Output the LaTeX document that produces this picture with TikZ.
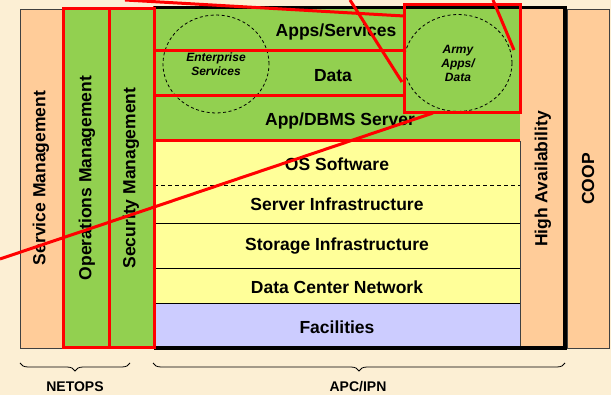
\documentclass[tikz,border=0pt]{standalone}
\usepackage{fontspec}
\setmainfont{Liberation Sans}
\usetikzlibrary{shapes.geometric,decorations.pathreplacing}
\definecolor{cream}{RGB}{252,239,212}
\definecolor{peach}{RGB}{255,204,153}
\definecolor{leaf}{RGB}{146,208,80}
\definecolor{paleyellow}{RGB}{255,255,153}
\definecolor{lavender}{RGB}{204,204,255}
\tikzset{
  layer/.style={font=\fontsize{17.5}{20}\selectfont\bfseries},
  column/.style={layer, rotate=90},
  redbox/.style={draw=red, line width=3pt},
  callout/.style={red, line width=3pt},
  bubble/.style={ellipse, draw, dash pattern=on 3pt off 2.5pt, line width=0.8pt,
    inner sep=0pt, align=center, font=\fontsize{12}{14}\selectfont\bfseries\itshape},
  groupbrace/.style={decorate, decoration={brace, mirror, amplitude=8pt}, line width=0.8pt},
  grouplabel/.style={font=\fontsize{14}{16}\selectfont\bfseries}
}
\begin{document}
\begin{tikzpicture}[x=1pt,y=-1pt]
  \useasboundingbox (0,0) rectangle (611,395);
  \fill[cream] (0,0) rectangle (611,395);
  % side columns
  \draw[fill=peach, draw=darkgray] (20,9) rectangle (63,348);
  \draw[fill=peach, draw=darkgray] (567,9) rectangle (609,348);
  \fill[leaf] (63,9) rectangle (154,348);
  % layers of the stack
  \fill[leaf] (154,7) rectangle (520,141);
  \fill[paleyellow] (154,141) rectangle (520,303);
  \fill[lavender] (154,303) rectangle (520,348);
  \fill[peach] (520,7) rectangle (565,348);
  \draw[dash pattern=on 4pt off 3pt] (154,185) -- (520,185);
  \draw (154,223) -- (520,223);
  \draw (154,268) -- (520,268);
  \draw (154,303) -- (520,303);
  \draw[darkgray] (520,141) -- (520,348);
  % dashed bubbles
  \node[bubble, minimum width=106pt, minimum height=98pt] (enterprise) at (216,64) {Enterprise\\Services};
  \node[bubble, minimum width=108pt, minimum height=97pt] (army) at (458,63) {Army\\Apps/\\Data};
  % red boxes
  \draw[redbox] (154,8) rectangle (404,51);
  \draw[redbox] (154,51) rectangle (404,96);
  \draw[redbox] (154,141) -- (520,141);
  \draw[line width=3.5pt] (154,7.5) -- (565,7.5) -- (565,348) -- (154,348);
  \draw[redbox] (404,5) rectangle (520,113);
  \draw[redbox] (63,9) rectangle (109,348);
  \draw[redbox] (109,9) rectangle (154,348);
  % labels
  \node[layer] (apps) at (336,32) {Apps/Services};
  \node[layer] (data) at (333,76) {Data};
  \node[layer] (dbms) at (340,121) {App/DBMS Server};
  \node[layer] (os) at (337,164) {OS Software};
  \node[layer] (server) at (337,204) {Server Infrastructure};
  \node[layer] (storage) at (337,246) {Storage Infrastructure};
  \node[layer] (network) at (337,287) {Data Center Network};
  \node[layer] (facilities) at (337,327) {Facilities};
  \node[column] (service) at (41,178) {Service Management};
  \node[column] (operations) at (87,178) {Operations Management};
  \node[column] (security) at (131,178) {Security Management};
  \node[column] (avail) at (543,179) {High Availability};
  \node[column] (coop) at (588,179) {COOP};
  % groups
  \draw[groupbrace] (20,363) -- (130,363);
  \node[grouplabel] (netops) at (75,387) {NETOPS};
  \draw[groupbrace] (153,363) -- (565,363);
  \node[grouplabel] (apcipn) at (358,387) {APC/IPN};
  % callout lines
  \coordinate (c1) at (125,0);
  \coordinate (c2) at (350,0);
  \coordinate (c3) at (493,0);
  \coordinate (c4) at (0,259);
  \coordinate (t1) at (404,16);
  \coordinate (t2) at (402,82);
  \coordinate (t3) at (514,50);
  \coordinate (t4) at (433,113);
  \draw[callout] (c1) -- (t1);
  \draw[callout] (c2) -- (t2);
  \draw[callout] (c3) -- (t3);
  \draw[callout] (c4) -- (t4);
\end{tikzpicture}
\end{document}
